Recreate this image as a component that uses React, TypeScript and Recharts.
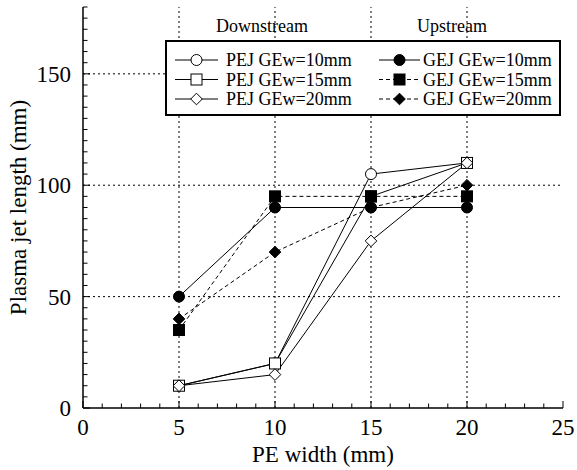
import React from 'react';
import { LineChart, Line, XAxis, YAxis, ReferenceLine, Legend } from 'recharts';

const peWidth = [5, 10, 15, 20];
const pej10 = [10, 20, 105, 110];
const pej15 = [10, 20, 95, 110];
const pej20 = [10, 15, 75, 110];
const gej10 = [50, 90, 90, 90];
const gej15 = [35, 95, 95, 95];
const gej20 = [40, 70, 90, 100];

const xTicks = [0, 1, 2, 3, 4, 5, 6, 7, 8, 9, 10, 11, 12, 13, 14, 15, 16, 17, 18, 19, 20, 21, 22, 23, 24, 25];
const yTicks = [0, 5, 10, 15, 20, 25, 30, 35, 40, 45, 50, 55, 60, 65, 70, 75, 80, 85, 90, 95, 100, 105, 110, 115, 120, 125, 130, 135, 140, 145, 150, 155, 160, 165, 170, 175, 180];
const xMajor = [0, 5, 10, 15, 20, 25];
const yMajor = [0, 50, 100, 150];
const xGrid = [5, 10, 15, 20];
const yGrid = [50, 100, 150];
const regionLabels = ['Downstream', 'Upstream'];

const FONT = 'Liberation Serif, Times New Roman, Times, serif';
const fontStyle = { fontFamily: FONT };

const data = peWidth.map((w, i) => ({
  w,
  pej10: pej10[i],
  pej15: pej15[i],
  pej20: pej20[i],
  gej10: gej10[i],
  gej15: gej15[i],
  gej20: gej20[i],
}));

type Shape = 'circle' | 'square' | 'diamond';
const series: { key: string; name: string; shape: Shape; filled: boolean; dashed: boolean }[] = [
  { key: 'pej10', name: 'PEJ GEw=10mm', shape: 'circle', filled: false, dashed: false },
  { key: 'pej15', name: 'PEJ GEw=15mm', shape: 'square', filled: false, dashed: false },
  { key: 'pej20', name: 'PEJ GEw=20mm', shape: 'diamond', filled: false, dashed: false },
  { key: 'gej10', name: 'GEJ GEw=10mm', shape: 'circle', filled: true, dashed: false },
  { key: 'gej15', name: 'GEJ GEw=15mm', shape: 'square', filled: true, dashed: true },
  { key: 'gej20', name: 'GEJ GEw=20mm', shape: 'diamond', filled: true, dashed: true },
];

function Marker({ cx, cy, shape, filled }: { cx: number; cy: number; shape: Shape; filled: boolean }) {
  const fill = filled ? '#000' : '#fff';
  const sw = 1;
  if (shape === 'circle') return <circle cx={cx} cy={cy} r={5.5} fill={fill} stroke="#000" strokeWidth={sw} />;
  if (shape === 'square') return <rect x={cx - 5.5} y={cy - 5.5} width={11} height={11} fill={fill} stroke="#000" strokeWidth={sw} />;
  const h = 5.8;
  return <polygon points={`${cx},${cy - h} ${cx + h},${cy} ${cx},${cy + h} ${cx - h},${cy}`} fill={fill} stroke="#000" strokeWidth={sw} />;
}

const makeDot = (shape: Shape, filled: boolean) => (props: any) => {
  const { cx, cy, index } = props;
  if (cx == null || cy == null) return <g key={`d${index}`} />;
  return (
    <g key={`d${index}`}>
      <Marker cx={cx} cy={cy} shape={shape} filled={filled} />
    </g>
  );
};

const BottomTick = (props: any) => {
  const { x, y, payload } = props;
  const major = xMajor.includes(payload.value);
  return (
    <g>
      <line x1={x} y1={y} x2={x} y2={y - (major ? 7 : 4.5)} stroke="#000" strokeWidth={1} />
      {major && (
        <text x={x} y={y + 27} textAnchor="middle" style={fontStyle} fontSize={23} fill="#000">
          {payload.value}
        </text>
      )}
    </g>
  );
};

const TopTick = (props: any) => {
  const { x, y, payload } = props;
  const major = xMajor.includes(payload.value);
  return <line x1={x} y1={y} x2={x} y2={y + (major ? 7 : 4.5)} stroke="#000" strokeWidth={1} />;
};

const LeftTick = (props: any) => {
  const { x, y, payload } = props;
  const major = yMajor.includes(payload.value);
  return (
    <g>
      <line x1={x} y1={y} x2={x + (major ? 7 : 4.5)} y2={y} stroke="#000" strokeWidth={1} />
      {major && (
        <text x={x - 12} y={y + 8} textAnchor="end" style={fontStyle} fontSize={23} fill="#000">
          {payload.value}
        </text>
      )}
    </g>
  );
};

const RightTick = (props: any) => {
  const { x, y, payload } = props;
  const major = yMajor.includes(payload.value);
  return <line x1={x} y1={y} x2={x - (major ? 7 : 4.5)} y2={y} stroke="#000" strokeWidth={1} />;
};

const LegendBox = () => {
  const rows = [60, 79.5, 99];
  const cols = [
    { x1: 175, x2: 218, tx: 226 },
    { x1: 379, x2: 420, tx: 423 },
  ];
  return (
    <svg width={577} height={120} style={{ display: 'block', pointerEvents: 'none' }}>
      <text x={262} y={32} textAnchor="middle" style={fontStyle} fontSize={18} fill="#000">{regionLabels[0]}</text>
      <text x={452} y={32} textAnchor="middle" style={fontStyle} fontSize={18} fill="#000">{regionLabels[1]}</text>
      <rect x={166} y={41} width={394} height={74} fill="#fff" stroke="#000" strokeWidth={2} />
      {series.map((s, i) => {
        const c = cols[Math.floor(i / 3)];
        const ry = rows[i % 3];
        const mx = (c.x1 + c.x2) / 2;
        return (
          <g key={s.key}>
            <line x1={c.x1} y1={ry} x2={c.x2} y2={ry} stroke="#000" strokeWidth={1} strokeDasharray={s.dashed ? '4 3' : undefined} />
            <Marker cx={mx} cy={ry} shape={s.shape} filled={s.filled} />
            <text x={c.tx} y={ry + 6} style={fontStyle} fontSize={18} fill="#000">{s.name}</text>
          </g>
        );
      })}
    </svg>
  );
};

export default function App() {
  return (
    <div style={{ position: 'absolute', left: 0, top: 0, width: 577, height: 470, background: '#fff', fontFamily: FONT }}>
      <LineChart width={577} height={470} data={data} margin={{ top: 7, right: 14, bottom: 2, left: 8 }} style={fontStyle}>
        <XAxis
          dataKey="w"
          type="number"
          domain={[0, 25]}
          ticks={xTicks}
          interval={0}
          tickSize={0}
          tickMargin={0}
          tickLine={false}
          axisLine={{ stroke: '#000', strokeWidth: 1.5 }}
          tick={<BottomTick />}
          height={60}
          label={{ value: 'PE width (mm)', position: 'insideBottom', offset: 6, style: { fontFamily: FONT, fontSize: 23, fill: '#000' } }}
        />
        <XAxis
          xAxisId="top"
          orientation="top"
          type="number"
          domain={[0, 25]}
          ticks={xTicks}
          interval={0}
          tickSize={0}
          tickMargin={0}
          tickLine={false}
          axisLine={{ stroke: '#000', strokeWidth: 1.5 }}
          tick={<TopTick />}
          height={0}
        />
        <YAxis
          type="number"
          domain={[0, 180]}
          ticks={yTicks}
          interval={0}
          tickSize={0}
          tickMargin={0}
          tickLine={false}
          axisLine={{ stroke: '#000', strokeWidth: 1.5 }}
          tick={<LeftTick />}
          width={75}
          label={{ value: 'Plasma jet length (mm)', angle: -90, position: 'insideLeft', offset: 10, style: { textAnchor: 'middle', fontFamily: FONT, fontSize: 23, fill: '#000' } }}
        />
        <YAxis
          yAxisId="right"
          orientation="right"
          type="number"
          domain={[0, 180]}
          ticks={yTicks}
          interval={0}
          tickSize={0}
          tickMargin={0}
          tickLine={false}
          axisLine={{ stroke: '#000', strokeWidth: 1.5 }}
          tick={<RightTick />}
          width={0}
        />
        {xGrid.map((v) => (
          <ReferenceLine key={`gx${v}`} x={v} stroke="#000" strokeWidth={1} strokeDasharray="2 3" />
        ))}
        {yGrid.map((v) => (
          <ReferenceLine key={`gy${v}`} y={v} stroke="#000" strokeWidth={1} strokeDasharray="2 3" />
        ))}
        {series.map((s) => (
          <Line
            key={s.key}
            dataKey={s.key}
            name={s.name}
            type="linear"
            stroke="#000"
            strokeWidth={1}
            strokeDasharray={s.dashed ? '4 3' : undefined}
            dot={makeDot(s.shape, s.filled)}
            activeDot={false}
            isAnimationActive={false}
          />
        ))}
        <Legend
          layout="vertical"
          align="center"
          verticalAlign="middle"
          content={() => <LegendBox />}
          wrapperStyle={{ position: 'absolute', left: 0, top: 0, width: 577, height: 120, pointerEvents: 'none' }}
        />
      </LineChart>
    </div>
  );
}
